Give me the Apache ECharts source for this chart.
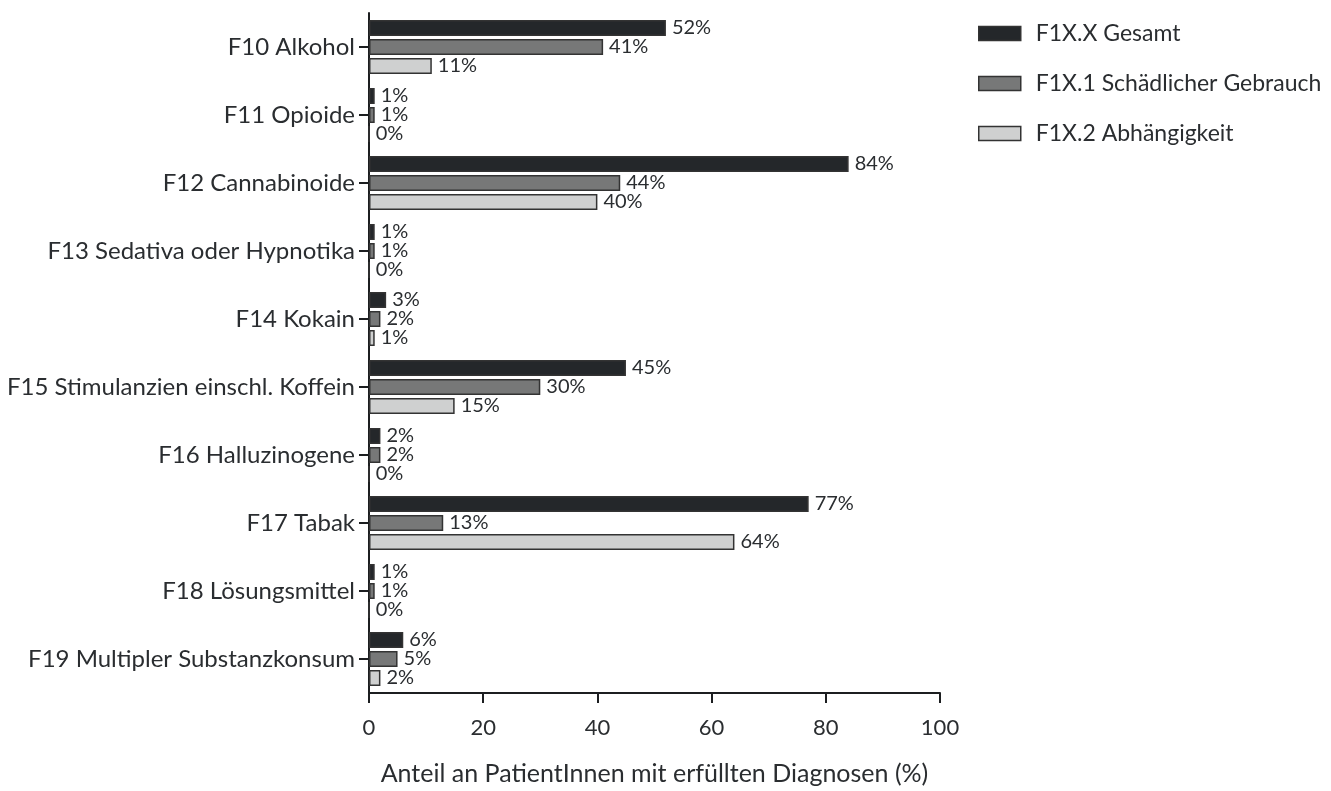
<!DOCTYPE html>
<html><head><meta charset="utf-8">
<script src="https://cdn.jsdelivr.net/npm/echarts@6/dist/echarts.min.js"></script>
<style>html,body{margin:0;padding:0;background:#fff}#c{width:1331px;height:791px}</style>
</head><body><div id="c"></div>
<script>
const categories = ["F10 Alkohol","F11 Opioide","F12 Cannabinoide","F13 Sedativa oder Hypnotika","F14 Kokain","F15 Stimulanzien einschl. Koffein","F16 Halluzinogene","F17 Tabak","F18 Lösungsmittel","F19 Multipler Substanzkonsum"];
const seriesNames = ["F1X.X Gesamt","F1X.1 Schädlicher Gebrauch","F1X.2 Abhängigkeit"];
const gesamt = [52,1,84,1,3,45,2,77,1,6];
const schaedlich = [41,1,44,1,2,30,2,13,1,5];
const abhaengig = [11,0,40,0,1,15,0,64,0,2];
const xTicks = [0,20,40,60,80,100];

const FONT = 'Lato';
const colors = ['#24272a','#777878','#cfd0d0'];
const values = [gesamt, schaedlich, abhaengig];

const chart = echarts.init(document.getElementById('c'));
chart.setOption({
  animation:false,
  backgroundColor:'#fff',
  textStyle:{fontFamily:FONT},
  legend:{
    orient:'vertical', left:973, top:17, itemWidth:42, itemHeight:14, itemGap:27,
    icon:'rect',
    data:seriesNames,
    textStyle:{fontFamily:FONT,fontSize:23,color:'#2a2d30',padding:[0,0,0,10]},
    itemStyle:{borderColor:'#333',borderWidth:1.5}
  },
  grid:{left:369,right:391,top:13,bottom:91,containLabel:false},
  xAxis:{
    type:'value', min:xTicks[0], max:xTicks[xTicks.length-1], interval:20,
    name:'Anteil an PatientInnen mit erfüllten Diagnosen (%)',
    nameLocation:'middle', nameGap:68,
    nameTextStyle:{fontFamily:FONT,fontSize:25,color:'#2a2d30'},
    axisLine:{show:true,lineStyle:{color:'#1c1e20',width:2}},
    axisTick:{show:true,length:10,lineStyle:{color:'#1c1e20',width:2}},
    axisLabel:{fontFamily:FONT,fontSize:22,color:'#2a2d30',margin:24},
    splitLine:{show:false}
  },
  yAxis:{
    type:'category', data:categories, inverse:true,
    axisLine:{show:true,lineStyle:{color:'#1c1e20',width:2}},
    axisTick:{show:true,alignWithLabel:true,length:10,lineStyle:{color:'#1c1e20',width:2}},
    axisLabel:{fontFamily:FONT,fontSize:24,color:'#2a2d30',margin:14}
  },
  series: seriesNames.map((n,i)=>({
    name:n, type:'bar', data:values[i], barWidth:16, barGap:'19%',
    itemStyle:{color:colors[i],borderColor:'#333',borderWidth:1.5},
    label:{show:true,position:'right',distance:6,formatter:'{c}%',fontFamily:FONT,fontSize:20,color:'#2a2d30'}
  }))
});
</script></body></html>
